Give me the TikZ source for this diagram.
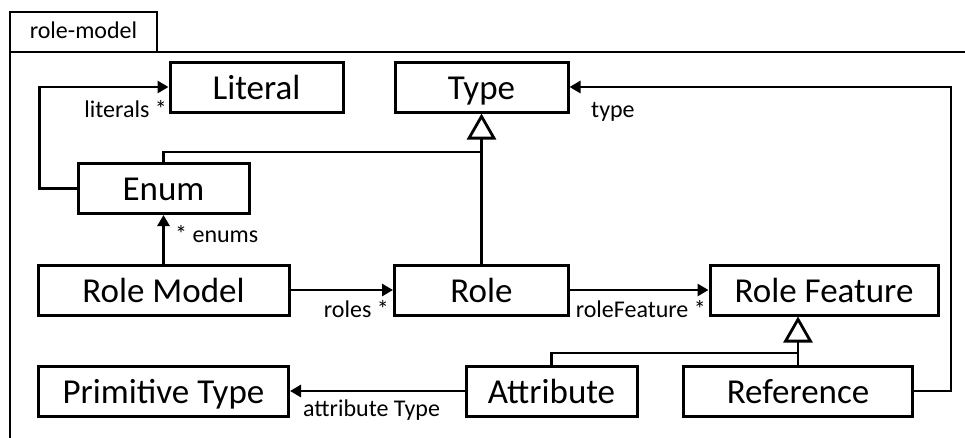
\documentclass[tikz,border=0pt]{standalone}
\usepackage{fontspec}
\setmainfont{Carlito}
\usetikzlibrary{arrows.meta}
\begin{document}
\begin{tikzpicture}[x=1pt,y=-1pt,
  cls/.style={draw, line width=3pt, fill=white, inner sep=0pt,
    minimum height=50pt, text height=30pt, text depth=6pt,
    font=\fontsize{35}{40}\selectfont},
  assoc/.style={line width=2.8pt, -{Triangle[length=11pt,width=12pt]}},
  gen/.style={line width=2.8pt, -{Triangle[open,length=26pt,width=29pt,fill=white,line width=2.8pt]}},
  genline/.style={line width=2.8pt},
  lbl/.style={inner sep=0pt, font=\fontsize{24}{28}\selectfont},
  frame/.style={line width=2pt}]
\useasboundingbox (0,0) rectangle (965,437);
\fill[white] (0,0) rectangle (965,437);

% package frame with its name tab
\node[frame, draw, minimum width=147pt, minimum height=40pt, inner sep=0pt,
  text height=17pt, text depth=5pt,
  font=\fontsize{24}{28}\selectfont] (tab) at (83.5,32) {role-model};
\draw[frame] (970,52) -- (10,52) -- (10,445);

% classes
\node[cls, minimum width=173pt] (lit)  at (256.5,87)  {Literal};
\node[cls, minimum width=173pt] (type) at (481.5,87)  {Type};
\node[cls, minimum width=171pt] (enum) at (163.5,188.5) {Enum};
\node[cls, minimum width=251pt] (rm)   at (163.5,290) {Role Model};
\node[cls, minimum width=174pt] (role) at (481.5,290) {Role};
\node[cls, minimum width=228pt] (rf)   at (824,290)   {Role Feature};
\node[cls, minimum width=250pt] (prim) at (163.5,391) {Primitive Type};
\node[cls, minimum width=171pt] (attr) at (551.5,391) {Attribute};
\node[cls, minimum width=229pt] (ref)  at (798,391)   {Reference};

% junction points of the generalisation trees
\coordinate (tj) at (481.5,152);
\coordinate (fj) at (798,353);

% generalisations
\draw[genline] (enum.north) |- (tj);
\draw[gen] (role.north) -- (type.south);
\draw[genline] (attr.north) |- (fj);
\draw[gen] (ref.north) -- (ref.north |- rf.south);

% associations
\draw[assoc] (enum.west) -- ++(-37,0) |- (lit.west);
\draw[assoc] (rm.north) -- (enum.south);
\draw[assoc] (rm.east) -- (role.west);
\draw[assoc] (role.east) -- (rf.west);
\draw[assoc] (attr.west) -- (prim.east);
\draw[assoc] (ref.east) -- ++(37,0) |- (type.east);

% association end labels
\node[lbl, anchor=base east] at (167,117) {literals *};
\node[lbl, anchor=base west] at (175,242) {* enums};
\node[lbl, anchor=base east] at (389,317) {roles *};
\node[lbl, anchor=base east] at (706,317) {roleFeature *};
\node[lbl, anchor=base west] at (303,416) {attribute Type};
\node[lbl, anchor=base west] at (591,117) {type};
\end{tikzpicture}
\end{document}
